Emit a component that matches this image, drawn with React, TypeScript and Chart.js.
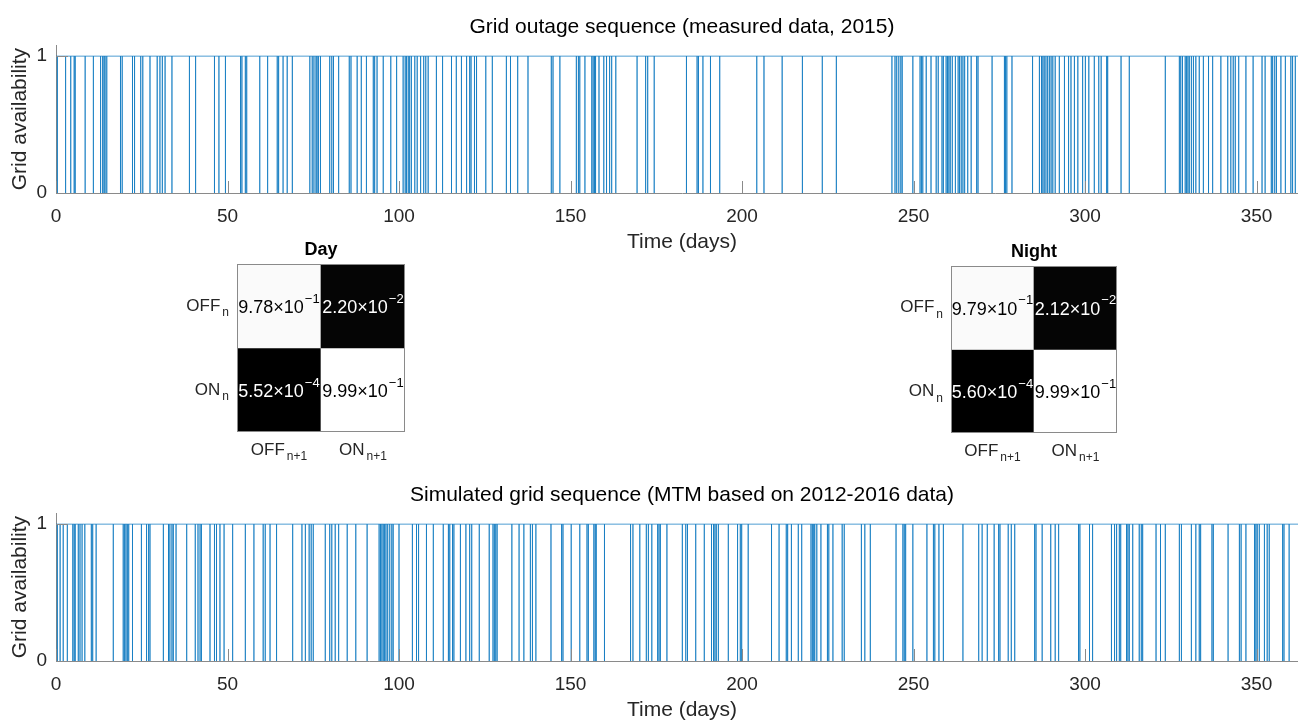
import React, { useEffect, useRef } from "react";
import { Chart, registerables } from "chart.js";

Chart.register(...registerables);

const FONT = "'Liberation Sans', Arial, Helvetica, sans-serif";
const AXIS_COLOR = "#8a8a8a";
const TEXT_COLOR = "#262626";
const LINE_COLOR = "#0072BD";

// ---------- data ----------
const measuredTitle = "Grid outage sequence (measured data, 2015)";
const simulatedTitle = "Simulated grid sequence (MTM based on 2012-2016 data)";
const xAxisTitle = "Time (days)";
const yAxisTitle = "Grid availability";

const xTickValues = [0, 50, 100, 150, 200, 250, 300, 350];
const yTickValues = [0, 1];
const X_MAX = 365;
const Y_MAX = 1.08;

// days at which the grid drops to 0 (measured, 2015)
const measuredOutageDays = [
  0.4, 2.8, 4.3, 5.3, 5.6, 8.5, 10.9, 13.0, 13.6, 14.0, 14.3, 14.8, 18.8, 19.3, 22.3, 22.9, 24.7, 25.3, 27.4, 29.5,
  30.3, 31.0, 31.8, 33.8, 38.9, 40.7, 46.2, 47.5, 49.4, 53.8, 54.2, 55.2, 55.6, 59.4, 61.7, 64.5, 64.9, 66.2, 67.4,
  68.9, 74.0, 74.7, 75.2, 75.8, 76.1, 76.5, 77.1, 79.8, 80.4, 80.9, 82.4, 85.5, 86.0, 87.8, 89.0,
  90.5, 92.5, 92.9, 93.6, 95.4, 97.6, 99.3, 101.2, 101.8, 102.2, 102.7, 103.1, 103.6, 104.6, 105.3, 106.3, 107.2,
  107.8, 108.5, 110.9, 112.7, 115.3, 116.7, 118.2, 119.7, 120.6, 121.0, 122.0, 122.6, 125.3, 127.2, 131.3, 132.5,
  134.6, 137.6, 144.4, 144.9, 146.9, 151.7, 152.3, 152.7, 154.2, 156.2, 156.6, 157.0, 157.3, 158.3, 159.7, 160.5,
  161.4, 162.0, 163.2, 169.4, 171.9, 172.5, 174.4,
  183.8, 186.9, 187.3, 188.6, 190.8, 193.5, 204.3, 206.4, 211.7, 217.6, 223.4, 227.5, 243.7, 244.6, 245.1, 245.7,
  246.3, 246.7, 249.8, 251.9, 252.3, 252.7, 253.7, 255.1, 256.6, 257.2, 258.3, 258.7, 259.5, 259.9, 260.3, 260.7,
  261.3, 262.2, 263.0, 263.4, 263.9, 264.4, 264.9, 265.8, 266.8, 268.4, 268.8,
  272.9, 276.5, 276.8, 277.2, 278.7, 284.7, 286.7, 287.3, 287.7, 288.1, 288.6, 289.1, 289.6, 290.1, 290.6, 291.3,
  292.5, 294.0, 295.2, 295.9, 296.9, 297.9, 299.3, 300.1, 301.1, 302.7, 304.0, 304.7, 306.3, 306.6, 310.5, 312.9,
  323.4, 327.5, 327.9, 328.4, 329.2, 329.6, 330.0, 330.4, 331.0, 331.6, 332.3, 333.3, 334.5, 336.0, 337.2, 339.6,
  341.6, 342.5, 343.2, 343.8, 344.8, 346.9, 349.0, 351.6, 352.5, 354.3, 354.7, 355.3, 355.8, 357.1, 358.4, 360.0,
  360.5, 361.3,
];

// days at which the simulated grid drops to 0
const simulatedOutageDays = [
  0.4, 1.2, 2.1, 3.3, 4.9, 5.3, 5.6, 6.5, 7.0, 7.6, 8.4, 10.3, 10.7, 11.7, 16.7, 19.6, 20.0, 20.4, 20.8, 21.2, 22.3,
  24.9, 26.4, 27.0, 27.4, 31.3, 32.8, 33.2, 33.8, 34.2, 35.0, 38.1, 40.6, 41.4, 42.0, 42.4, 44.9, 46.2, 46.8, 47.8,
  49.0, 51.5, 55.2, 57.7, 60.4, 61.0, 62.4, 64.3, 69.0, 71.7, 72.7, 73.8, 74.4, 75.0, 78.5, 79.8, 80.4, 81.4, 82.4,
  84.9, 87.4,
  90.7, 94.2, 94.6, 95.0, 95.4, 95.8, 96.2, 96.7, 97.3, 97.9, 98.3, 100.0, 103.9, 105.1, 105.7, 108.0, 110.0, 112.9,
  114.4, 114.8, 115.6, 116.0, 117.9, 119.5, 120.6, 121.2, 123.4, 126.3, 127.4, 127.8, 128.2, 128.6, 132.9, 135.0,
  136.4, 138.3, 138.9, 139.9, 144.3, 147.4, 147.8, 150.2, 152.7, 154.8, 155.2, 156.8, 157.2, 157.5, 159.9, 167.5,
  168.2, 170.2, 172.1, 172.7, 173.7, 175.4, 175.8, 176.2, 178.1,
  182.6, 183.6, 184.1, 186.5, 189.0, 191.1, 191.7, 192.1, 192.5, 193.1, 196.0, 198.7, 199.5, 199.9, 201.8, 208.6,
  210.8, 212.9, 213.3, 214.4, 216.4, 217.4, 220.1, 220.5, 220.9, 221.2, 221.8, 223.0, 224.9, 225.3, 226.5, 229.2,
  229.8, 234.8, 235.8, 237.4, 244.9, 246.9, 247.3, 247.7, 249.8, 253.9, 255.8, 256.2, 257.4, 258.7, 264.4, 269.0,
  270.0, 271.5, 273.5, 274.8, 275.2, 277.6, 278.5, 279.5, 285.3, 285.7, 287.5, 290.0, 291.3, 292.3, 298.1, 298.5,
  301.3, 302.2, 307.7, 308.6, 309.2, 310.0, 310.4, 312.1, 312.5, 312.9, 313.9, 315.8, 316.4, 316.8, 320.7, 322.0,
  323.4, 327.5, 328.1, 331.0, 332.3, 333.3, 333.7, 337.0, 337.4, 341.7, 345.0, 345.5, 346.9, 349.4, 349.8, 350.2,
  350.8, 352.3, 353.1, 353.7, 357.6, 358.0, 359.5,
];

// transition matrices: rows = state n (OFF, ON), columns = state n+1 (OFF, ON)
const stateLabels = ["OFF", "ON"];
const rowSubscript = "n";
const colSubscript = "n+1";
const dayTitle = "Day";
const nightTitle = "Night";
const dayMatrix = [
  [9.78e-1, 2.2e-2],
  [5.52e-4, 9.99e-1],
];
const nightMatrix = [
  [9.79e-1, 2.12e-2],
  [5.6e-4, 9.99e-1],
];

// ---------- helpers ----------
function buildSequence(days: number[]) {
  const pts: { x: number; y: number }[] = [{ x: 0, y: 1 }];
  for (const d of days) {
    pts.push({ x: d, y: 1 }, { x: d, y: 0 }, { x: d, y: 1 });
  }
  pts.push({ x: X_MAX, y: 1 });
  return pts;
}

const inwardTicks = {
  id: "inwardTicks",
  afterDatasetsDraw(chart: any) {
    const { ctx, chartArea: a, scales } = chart;
    const x = scales.x;
    const y = scales.y;
    ctx.save();
    ctx.strokeStyle = AXIS_COLOR;
    ctx.lineWidth = 1;
    ctx.beginPath();
    for (const v of xTickValues) {
      const px = Math.round(x.getPixelForValue(v)) + 0.5;
      ctx.moveTo(px, a.bottom);
      ctx.lineTo(px, a.bottom - 12);
    }
    for (const v of yTickValues) {
      const py = Math.round(y.getPixelForValue(v)) + 0.5;
      ctx.moveTo(a.left, py);
      ctx.lineTo(a.left + 12, py);
    }
    ctx.stroke();
    ctx.restore();
  },
};

function SequenceChart({ title, days, top }: { title: string; days: number[]; top: number }) {
  const ref = useRef<HTMLCanvasElement>(null);
  useEffect(() => {
    const chart = new Chart(ref.current as HTMLCanvasElement, {
      type: "line",
      data: {
        datasets: [
          {
            data: buildSequence(days),
            borderColor: LINE_COLOR,
            borderWidth: 0.7,
            pointRadius: 0,
            tension: 0,
            fill: false,
          },
        ],
      },
      options: {
        animation: false,
        responsive: false,
        devicePixelRatio: 1,
        layout: { padding: { left: 0, right: 2, top: 0, bottom: 0 } },
        plugins: {
          legend: { display: false },
          tooltip: { enabled: false },
          title: {
            display: true,
            text: title,
            fullSize: false,
            color: "#000",
            font: { family: FONT, size: 21, weight: "normal" },
            padding: { top: 15, bottom: 5 },
          },
        },
        scales: {
          x: {
            type: "linear",
            min: 0,
            max: X_MAX,
            afterBuildTicks: (s: any) => {
              s.ticks = xTickValues.map((v) => ({ value: v }));
            },
            afterFit: (s: any) => {
              s.height = 69;
            },
            grid: { drawOnChartArea: false, drawTicks: false },
            border: { display: true, color: AXIS_COLOR, width: 1 },
            ticks: {
              padding: 12,
              color: TEXT_COLOR,
              font: { family: FONT, size: 19 },
              maxRotation: 0,
              autoSkip: false,
            },
            title: {
              display: true,
              text: xAxisTitle,
              color: TEXT_COLOR,
              font: { family: FONT, size: 21 },
              padding: { top: 0, bottom: 7 },
            },
          },
          y: {
            type: "linear",
            min: 0,
            max: Y_MAX,
            afterBuildTicks: (s: any) => {
              s.ticks = yTickValues.map((v) => ({ value: v }));
            },
            afterFit: (s: any) => {
              s.width = 56;
            },
            grid: { drawOnChartArea: false, drawTicks: false },
            border: { display: true, color: AXIS_COLOR, width: 1 },
            ticks: {
              padding: 9,
              color: TEXT_COLOR,
              font: { family: FONT, size: 19 },
            },
            title: {
              display: true,
              text: yAxisTitle,
              color: TEXT_COLOR,
              font: { family: FONT, size: 21 },
              padding: { top: 8, bottom: 0 },
            },
          },
        },
      } as any,
      plugins: [inwardTicks],
    });
    return () => chart.destroy();
  }, []);
  return (
    <canvas
      ref={ref}
      width={1310}
      height={262}
      style={{ position: "absolute", left: 0, top, width: 1310, height: 262, display: "block" }}
    />
  );
}

function grayFor(v: number, lo: number, hi: number) {
  const g = Math.round((255 * (v - lo)) / (hi - lo));
  return `rgb(${g},${g},${g})`;
}

function drawSub(ctx: any, main: string, sub: string, x: number, y: number, align: "right" | "center") {
  ctx.font = `17px ${FONT}`;
  const wm = ctx.measureText(main).width;
  ctx.font = `12px ${FONT}`;
  const ws = ctx.measureText(sub).width;
  const total = wm + 2 + ws;
  const startX = align === "right" ? x - total : x - total / 2;
  ctx.textAlign = "left";
  ctx.textBaseline = "middle";
  ctx.font = `17px ${FONT}`;
  ctx.fillText(main, startX, y);
  ctx.font = `12px ${FONT}`;
  ctx.fillText(sub, startX + wm + 2, y + 7);
}

const heatmapText = {
  id: "heatmapText",
  afterDatasetsDraw(chart: any, _args: any, opts: any) {
    const { ctx, chartArea: a, scales } = chart;
    const x = scales.x;
    const y = scales.y;
    const matrix: number[][] = opts.matrix;
    const n = matrix.length;
    ctx.save();
    // frame
    ctx.strokeStyle = AXIS_COLOR;
    ctx.lineWidth = 1;
    ctx.strokeRect(Math.round(a.left) + 0.5, Math.round(a.top) + 0.5, Math.round(a.right - a.left) - 1, Math.round(a.bottom - a.top) - 1);
    const flat = matrix.flat();
    const lo = Math.min(...flat);
    const hi = Math.max(...flat);
    // cell values
    matrix.forEach((row, ri) =>
      row.forEach((v, ci) => {
        const cx = x.getPixelForValue(ci);
        const cy = y.getPixelForValue(n - ri - 0.5);
        const [m, e] = v.toExponential(2).split("e");
        const base = m + "\u00d710";
        const exp = String(parseInt(e, 10)).replace("-", "\u2212");
        ctx.font = `18px ${FONT}`;
        const wb = ctx.measureText(base).width;
        ctx.font = `13px ${FONT}`;
        const we = ctx.measureText(exp).width;
        const sx = cx - (wb + 1 + we) / 2;
        const frac = (v - lo) / (hi - lo);
        ctx.fillStyle = frac < 0.5 ? "#ffffff" : "#000000";
        ctx.textAlign = "left";
        ctx.textBaseline = "middle";
        ctx.font = `18px ${FONT}`;
        ctx.fillText(base, sx, cy + 2);
        ctx.font = `13px ${FONT}`;
        ctx.fillText(exp, sx + wb + 1, cy - 7);
      })
    );
    // row labels
    ctx.fillStyle = TEXT_COLOR;
    stateLabels.forEach((lab, ri) => {
      const cy = y.getPixelForValue(n - ri - 0.5);
      drawSub(ctx, lab, rowSubscript, a.left - 8, cy, "right");
    });
    // column labels
    stateLabels.forEach((lab, ci) => {
      const cx = x.getPixelForValue(ci);
      drawSub(ctx, lab, colSubscript, cx, a.bottom + 18, "center");
    });
    ctx.restore();
  },
};

function MatrixChart({
  title,
  matrix,
  left,
  top,
  pad,
}: {
  title: string;
  matrix: number[][];
  left: number;
  top: number;
  pad: { left: number; right: number; top: number; bottom: number };
}) {
  const ref = useRef<HTMLCanvasElement>(null);
  useEffect(() => {
    const flat = matrix.flat();
    const lo = Math.min(...flat);
    const hi = Math.max(...flat);
    const n = matrix.length;
    const chart = new Chart(ref.current as HTMLCanvasElement, {
      type: "bar",
      data: {
        labels: stateLabels,
        datasets: matrix.map((row, ri) => ({
          data: row.map(() => [n - ri - 1, n - ri]),
          backgroundColor: row.map((v) => grayFor(v, lo, hi)),
          borderWidth: 0,
          barPercentage: 1,
          categoryPercentage: 1,
          grouped: false,
        })),
      },
      options: {
        animation: false,
        responsive: false,
        devicePixelRatio: 1,
        layout: { padding: { left: pad.left, right: pad.right, top: 0, bottom: pad.bottom } },
        plugins: {
          legend: { display: false },
          tooltip: { enabled: false },
          title: {
            display: true,
            text: title,
            fullSize: false,
            color: "#000",
            font: { family: FONT, size: 18, weight: "bold" },
            padding: { top: pad.top - 24.8, bottom: 3.2 },
          },
          heatmapText: { matrix },
        },
        scales: {
          x: { display: false, offset: true },
          y: { display: false, min: 0, max: n },
        },
      } as any,
      plugins: [heatmapText],
    });
    return () => chart.destroy();
  }, []);
  return (
    <canvas
      ref={ref}
      width={270}
      height={240}
      style={{ position: "absolute", left, top, width: 270, height: 240, display: "block" }}
    />
  );
}

export default function App() {
  return (
    <div
      style={{
        position: "absolute",
        left: 0,
        top: 0,
        width: 1298,
        height: 720,
        overflow: "hidden",
        background: "#ffffff",
      }}
    >
      <SequenceChart title={measuredTitle} days={measuredOutageDays} top={0} />
      <MatrixChart
        title={dayTitle}
        matrix={dayMatrix}
        left={150}
        top={236}
        pad={{ left: 87, right: 15, top: 28, bottom: 44 }}
      />
      <MatrixChart
        title={nightTitle}
        matrix={nightMatrix}
        left={864}
        top={238}
        pad={{ left: 87, right: 17, top: 28, bottom: 45 }}
      />
      <SequenceChart title={simulatedTitle} days={simulatedOutageDays} top={468} />
    </div>
  );
}
